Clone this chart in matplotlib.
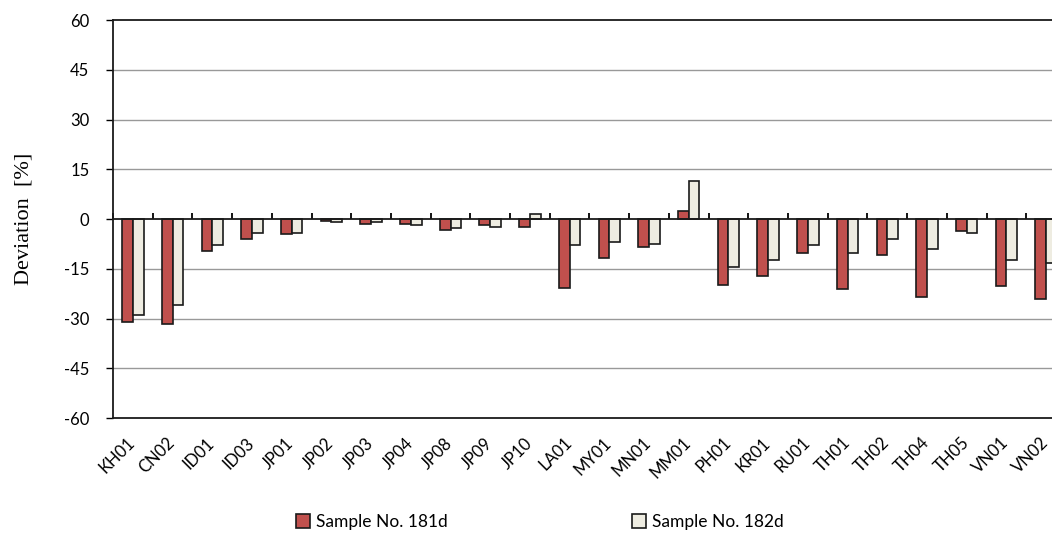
import matplotlib.pyplot as plt
import matplotlib.transforms as mtransforms
import numpy as np

sites = ['KH01', 'CN02', 'ID01', 'ID03', 'JP01', 'JP02', 'JP03', 'JP04', 'JP08',
         'JP09', 'JP10', 'LA01', 'MY01', 'MN01', 'MM01', 'PH01', 'KR01', 'RU01',
         'TH01', 'TH02', 'TH04', 'TH05', 'VN01', 'VN02']
dev_181d = [-31.0, -31.6, -9.7, -6.0, -4.5, -0.5, -1.4, -1.4, -3.2,
            -1.8, -2.3, -20.9, -11.7, -8.4, 2.3, -20.0, -17.1, -10.2,
            -21.2, -10.7, -23.6, -3.6, -20.3, -24.0]
dev_182d = [-28.8, -25.9, -7.9, -4.1, -4.1, -0.9, -0.9, -1.8, -2.8,
            -2.3, 1.5, -7.9, -6.9, -7.4, 11.5, -14.4, -12.5, -7.8,
            -10.1, -6.0, -8.9, -4.2, -12.5, -13.3]
yticks = [60, 45, 30, 15, 0, -15, -30, -45, -60]

plt.rcParams['font.family'] = ['Lato', 'DejaVu Sans']
plt.rcParams['axes.unicode_minus'] = False

fig = plt.figure(figsize=(10.52, 5.38), dpi=100)
# axes run a bit past the right edge, as in the original (last bar is cut)
ax = fig.add_axes([0.1074, 0.2230, 0.9059, 0.7398])

x = np.arange(len(sites))
w = 0.27
ax.bar(x - w / 2, dev_181d, w, color='#C0504D', edgecolor='#1a1a1a', linewidth=1.2,
       label='Sample No. 181d', zorder=3)
ax.bar(x + w / 2, dev_182d, w, color='#EEECE1', edgecolor='#1a1a1a', linewidth=1.2,
       label='Sample No. 182d', zorder=3)

ax.set_xlim(-0.5, len(sites) - 0.5)
ax.set_ylim(-60, 60)
ax.set_yticks(yticks)
ax.tick_params(axis='y', direction='out', length=5, width=1, labelsize=12, pad=12)
for v in yticks:
    if v in (60, 0, -60):
        continue
    ax.axhline(v, color='#999999', lw=1, zorder=1)
ax.axhline(0, color='#1a1a1a', lw=1.3, zorder=4)

ax.set_xticks(x)
ax.set_xticklabels(sites, rotation=45, ha='right', rotation_mode='anchor', fontsize=12)
ax.tick_params(axis='x', length=0, pad=12)
shift = mtransforms.ScaledTranslation(-6 / 100, 0, fig.dpi_scale_trans)
for lab in ax.get_xticklabels():
    lab.set_transform(lab.get_transform() + shift)

# category boundary ticks hanging under the zero line
sec = ax.secondary_xaxis(0.5)
sec.set_xticks(np.arange(len(sites) + 1) - 0.5)
sec.set_xticklabels([])
sec.tick_params(axis='x', direction='out', length=4, width=1.3)
sec.spines['bottom'].set_visible(False)
sec.spines['top'].set_visible(False)

for s in ['left', 'bottom', 'top']:
    ax.spines[s].set_color('#1a1a1a')
    ax.spines[s].set_linewidth(1.3)
ax.spines['right'].set_visible(False)

ax.set_ylabel('Deviation  [%]', family='Liberation Serif', fontsize=16, labelpad=22)

fig.legend(loc='lower center', bbox_to_anchor=(0.513, -0.014), ncol=2, frameon=False,
           handlelength=0.8, handleheight=0.8, handletextpad=0.35,
           columnspacing=10.6, fontsize=12.5)

fig.savefig('out.png', dpi=100)
